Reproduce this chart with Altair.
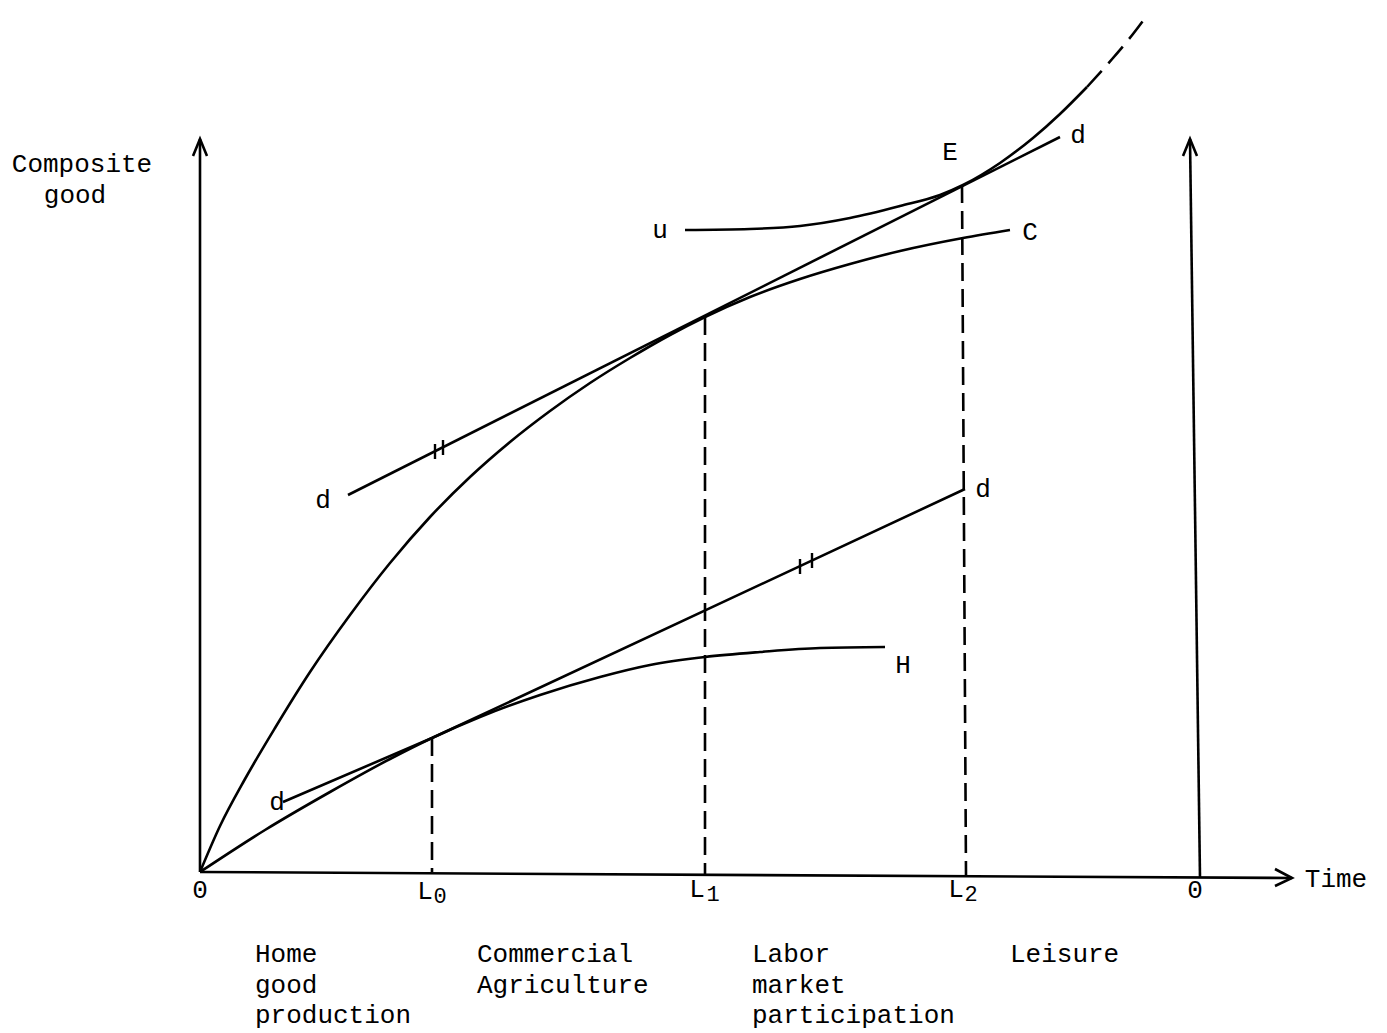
import altair as alt
import pandas as pd

FONT = "Courier New, Liberation Mono, monospace"

# ---- curves (Time on x, Composite good on y; origin at 0,0) ----
C_x = [0, 20, 45, 75, 110, 150, 190, 230, 270, 310, 350, 390, 430, 470, 505, 550, 600, 650, 700, 763, 810]
C_y = [0, 46, 93, 144, 200, 257, 309, 355, 395, 430, 461, 489, 514, 537, 555, 575, 593, 608, 621, 634, 642]

H_x = [0, 65, 130, 190, 232, 280, 340, 400, 450, 505, 560, 620, 685]
H_y = [0, 42, 80, 113, 134, 155, 177, 195, 207, 215, 220, 224, 225]

U_x = [485, 550, 600, 650, 700, 740, 763, 800, 833, 860, 887]
U_y = [642, 643, 646, 654, 666, 677, 687, 709, 734, 758, 785]
U_dash_x = [887, 913, 933, 948]
U_dash_y = [785, 814, 838, 858]

# ---- straight lines ----
D_up_x = [148, 860]
D_up_y = [377, 735]
D_low_x = [83, 232, 765]
D_low_y = [70, 134, 383]

L0_x, L0_y = [232, 232], [134, 0]
L1_x, L1_y = [505, 505], [555, -2]
L2_x, L2_y = [762, 766], [687, -3]

Yaxis_x, Yaxis_y = [0, 0], [0, 733]
Xaxis_x, Xaxis_y = [0, 1092], [0, -6]
Raxis_x, Raxis_y = [1000, 990], [-6, 733]
ArrL_x, ArrL_y = [-7, 0, 7], [716, 733, 716]
ArrR_x, ArrR_y = [983, 990, 997], [716, 733, 716]
ArrT_x, ArrT_y = [1075, 1092, 1075], [3, -6, -14]

# ---- "||" marks on the two d lines ----
TK_x = [235, 243, 600, 612]
TK_y1 = [413, 417, 298, 304]
TK_y2 = [428, 432, 313, 319]

# ---- labels ----
LAB_text = ["Composite", "good", "0", "0", "Time", "d", "d", "d", "d", "E", "u", "C", "H", "L", "L", "L"]
LAB_x = [-118, -125, 0, 995, 1136, 123, 878, 783, 77, 750, 460, 830, 703, 225, 497, 756]
LAB_y = [708, 677, -18, -18, -7, 372, 737, 383, 70, 720, 642, 640, 207, -19, -17, -17]

SUB_text = ["0", "1", "2"]
SUB_x = [240, 513, 771]
SUB_y = [-24, -22, -22]

BOT_text = ["Home", "good", "production", "Commercial", "Agriculture",
            "Labor", "market", "participation", "Leisure"]
BOT_x = [55, 55, 55, 277, 277, 552, 552, 552, 810]
BOT_y = [-82, -113, -143, -82, -113, -82, -113, -143, -82]


def build(items):
    rows = []
    for name, xs, ys in items:
        for i, (a, b) in enumerate(zip(xs, ys)):
            rows.append({"id": name, "o": i, "x": a, "y": b})
    return pd.DataFrame(rows)


curves = build([("C", C_x, C_y), ("H", H_x, H_y), ("u", U_x, U_y)])
curves_dash = build([("u2", U_dash_x, U_dash_y)])
straight = build([("dup", D_up_x, D_up_y), ("dlow", D_low_x, D_low_y),
                  ("ya", Yaxis_x, Yaxis_y), ("xa", Xaxis_x, Xaxis_y),
                  ("ra", Raxis_x, Raxis_y), ("al", ArrL_x, ArrL_y),
                  ("ar", ArrR_x, ArrR_y), ("at", ArrT_x, ArrT_y)])
dashed = build([("l0", L0_x, L0_y), ("l1", L1_x, L1_y), ("l2", L2_x, L2_y)])
ticks = pd.DataFrame({"x": TK_x, "y": TK_y1, "y2": TK_y2})
labels = pd.DataFrame({"t": LAB_text, "x": LAB_x, "y": LAB_y})
subs = pd.DataFrame({"t": SUB_text, "x": SUB_x, "y": SUB_y})
bottom = pd.DataFrame({"t": BOT_text, "x": BOT_x, "y": BOT_y})

xs = alt.Scale(domain=[-192, 1179], nice=False, zero=False)
ys = alt.Scale(domain=[-160, 862], nice=False, zero=False)
X = alt.X("x:Q", scale=xs, axis=None)
Y = alt.Y("y:Q", scale=ys, axis=None)

lw = 2.6
l_curves = alt.Chart(curves).mark_line(color="black", strokeWidth=lw, interpolate="monotone").encode(
    x=X, y=Y, detail="id:N", order="o:Q")
l_cdash = alt.Chart(curves_dash).mark_line(color="black", strokeWidth=lw, interpolate="monotone",
                                           strokeDash=[22, 10]).encode(
    x=X, y=Y, detail="id:N", order="o:Q")
l_straight = alt.Chart(straight).mark_line(color="black", strokeWidth=lw).encode(
    x=X, y=Y, detail="id:N", order="o:Q")
l_dashed = alt.Chart(dashed).mark_line(color="black", strokeWidth=lw, strokeDash=[18, 8]).encode(
    x=X, y=Y, detail="id:N", order="o:Q")
l_ticks = alt.Chart(ticks).mark_rule(color="black", strokeWidth=2.4).encode(
    x=X, y=Y, y2="y2:Q")
t_labels = alt.Chart(labels).mark_text(font=FONT, fontSize=26, color="black",
                                       align="center", baseline="middle").encode(
    x=X, y=Y, text="t:N")
t_subs = alt.Chart(subs).mark_text(font=FONT, fontSize=22, color="black",
                                   align="center", baseline="middle").encode(
    x=X, y=Y, text="t:N")
t_bottom = alt.Chart(bottom).mark_text(font=FONT, fontSize=26, color="black",
                                       align="left", baseline="middle").encode(
    x=X, y=Y, text="t:N")

chart = alt.layer(l_curves, l_cdash, l_straight, l_dashed, l_ticks,
                  t_labels, t_subs, t_bottom).properties(
    width=1371, height=1022, padding=0, background="white"
).configure_view(stroke=None)

chart.save("out.html", embed_options={"renderer": "svg", "actions": False})
